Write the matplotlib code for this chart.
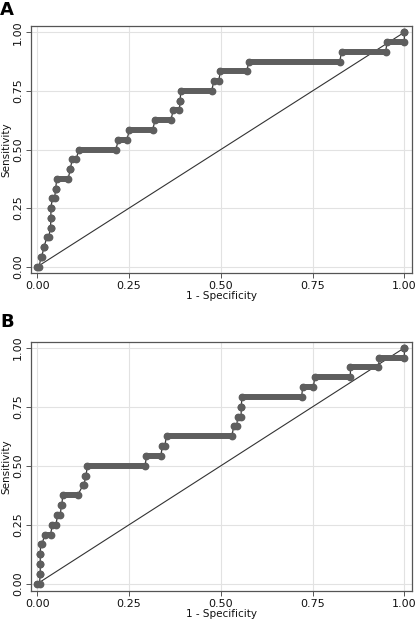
import matplotlib
matplotlib.use("Agg")
import matplotlib.pyplot as plt
import numpy as np

# Sensitivity levels are k/24; each level holds a run of ROC points from x_start to x_end
levels = list(range(25))

a_x_start = [0.000, 0.010, 0.018, 0.026, 0.036, 0.037, 0.037, 0.041, 0.050, 0.053,
             0.090, 0.095, 0.113, 0.221, 0.251, 0.321, 0.370, 0.389, 0.391, 0.481,
             0.499, 0.576, 0.829, 0.953, 1.000]
a_x_end = [0.005, 0.012, 0.018, 0.031, 0.036, 0.037, 0.037, 0.047, 0.050, 0.084,
           0.090, 0.106, 0.214, 0.244, 0.314, 0.364, 0.387, 0.389, 0.475, 0.494,
           0.571, 0.824, 0.949, 1.000, 1.000]

b_x_start = [0.000, 0.008, 0.008, 0.008, 0.009, 0.020, 0.041, 0.055, 0.065, 0.069,
             0.124, 0.131, 0.136, 0.297, 0.340, 0.352, 0.535, 0.546, 0.556, 0.557,
             0.723, 0.756, 0.853, 0.932, 1.000]
b_x_end = [0.006, 0.008, 0.008, 0.008, 0.013, 0.036, 0.051, 0.063, 0.067, 0.110,
           0.128, 0.133, 0.294, 0.337, 0.347, 0.530, 0.543, 0.555, 0.556, 0.720,
           0.752, 0.853, 0.929, 1.000, 1.000]

ticks = [0.0, 0.25, 0.5, 0.75, 1.0]
tick_labels = ["0.00", "0.25", "0.50", "0.75", "1.00"]
panel_labels = ["A", "B"]

plt.rcParams['font.family'] = ['DejaVu Sans']

fig = plt.figure(figsize=(4.16, 6.2), dpi=100)
axA = fig.add_axes([30.7/416, 1-273.3/620, (411.7-30.7)/416, (273.3-25.7)/620])
axB = fig.add_axes([30.7/416, 1-591.3/620, (411.7-30.7)/416, (591.3-341.7)/620])

mark_col = '#5e5e5e'
line_col = '#3a3a3a'

def draw(ax, xs, xe, ylims):
    ys = [k/24 for k in levels]
    px, py = [], []
    for s, e, y in zip(xs, xe, ys):
        px += [s, e]
        py += [y, y]
    ax.plot([0, 1], [0, 1], color='#333333', lw=0.8, zorder=2)
    ax.plot(px, py, color=line_col, lw=0.9, zorder=3)
    for s, e, y in zip(xs, xe, ys):
        ax.plot([s, e], [y, y], color=mark_col, lw=4.3, solid_capstyle='round', zorder=4)
        ax.plot([s, e], [y, y], 'o', color=mark_col, ms=4.6, mec=mark_col, zorder=4)
    ax.set_xlim(-0.018, 1.02)
    ax.set_ylim(*ylims)
    ax.set_xticks(ticks)
    ax.set_xticklabels(tick_labels)
    ax.set_yticks(ticks)
    ax.set_yticklabels(tick_labels, rotation=90, va='center')
    ax.grid(True, color='#e2e2e2', lw=0.8)
    ax.set_axisbelow(True)
    for sp in ax.spines.values():
        sp.set_color('#555555')
        sp.set_linewidth(0.9)
    ax.tick_params(direction='out', length=3.5, width=0.7, color='#555555',
                   labelsize=8, pad=2, labelcolor='#111111')
    ax.set_xlabel('1 - Specificity', fontsize=7.5, labelpad=0, color='#111111')
    ax.set_ylabel('Sensitivity', fontsize=7.5, labelpad=1, color='#111111')

draw(axA, a_x_start, a_x_end, (-0.028, 1.028))
draw(axB, b_x_start, b_x_end, (-0.032, 1.026))

fig.text(0.0, 1 - 10/620, panel_labels[0], fontsize=13, fontweight='bold', va='center', ha='left')
fig.text(0.0, 1 - 322/620, panel_labels[1], fontsize=13, fontweight='bold', va='center', ha='left')

fig.savefig('out.png', dpi=100)
